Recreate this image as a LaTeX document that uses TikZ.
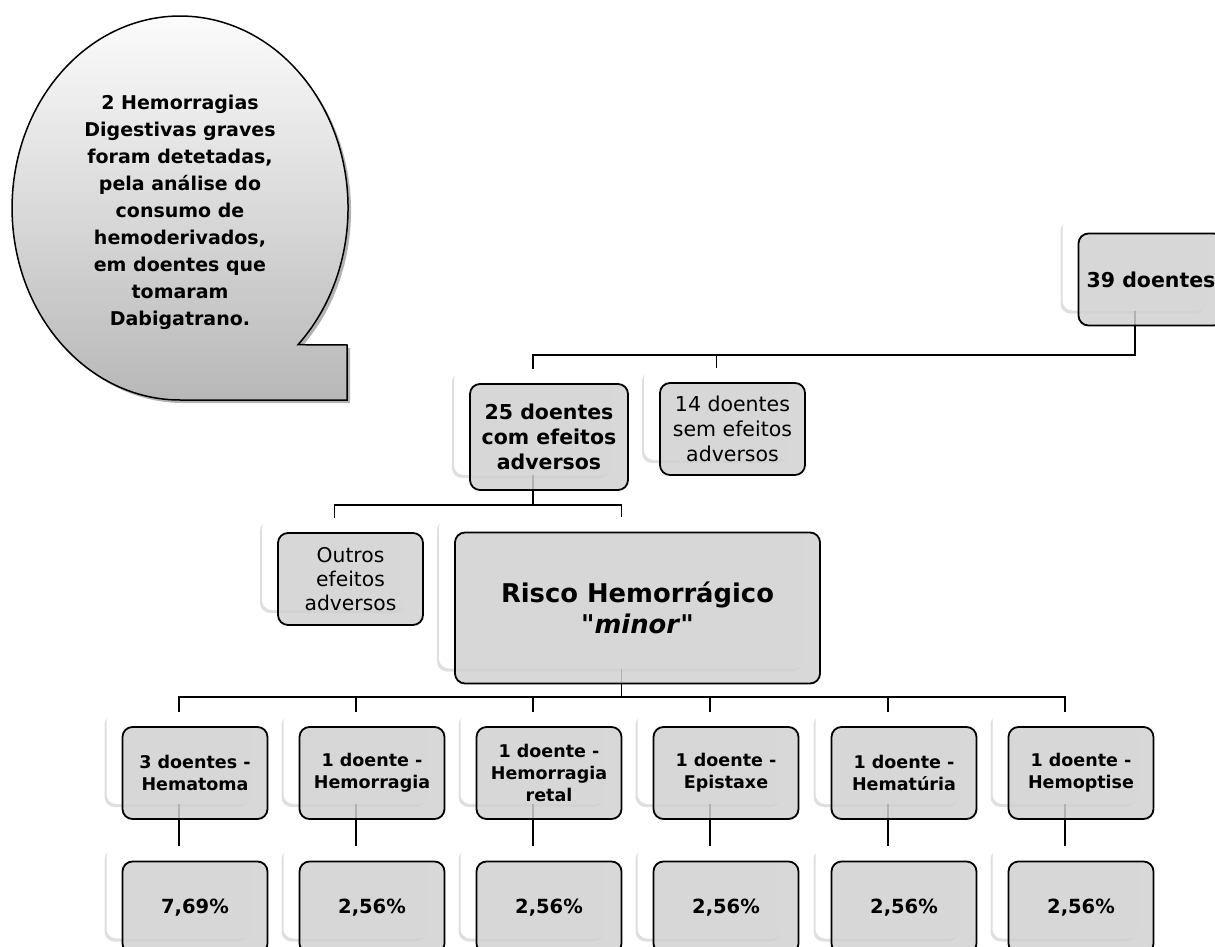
\documentclass[tikz,border=0pt]{standalone}
\usepackage{fontspec}
\setmainfont{DejaVu Sans}
\usetikzlibrary{positioning,shadows,calc}
\tikzset{
  chart/.style={x=1pt,y=-1pt},
  back/.style={rectangle,rounded corners=10pt,fill=white,inner sep=0pt,
    minimum width=145pt,minimum height=92pt,
    drop shadow={shadow xshift=-2pt,shadow yshift=-3pt,opacity=0.25}},
  front/.style={rectangle,rounded corners=10pt,draw=black,line width=1.8pt,
    fill=black!18,fill opacity=0.85,text opacity=1,inner sep=0pt,align=center,
    minimum width=145pt,minimum height=92pt,xshift=16pt,yshift=-15pt},
  wide/.style={minimum width=158pt,minimum height=106pt},
  huge/.style={minimum width=365pt,minimum height=151pt},
  link/.style={line width=1.8pt},
  note text/.style={align=center,font=\fontsize{19pt}{27pt}\selectfont\bfseries},
  level one/.style={font=\fontsize{20.5pt}{25pt}\selectfont\bfseries},
  level two/.style={font=\fontsize{20.5pt}{25pt}\selectfont\bfseries},
  plain two/.style={font=\fontsize{20.5pt}{25pt}\selectfont},
  plain three/.style={font=\fontsize{20.3pt}{24pt}\selectfont},
  level three/.style={font=\fontsize{25.8pt}{31pt}\selectfont\bfseries},
  level four/.style={font=\fontsize{17.5pt}{21.7pt}\selectfont\bfseries},
  level five/.style={font=\fontsize{19.5pt}{23pt}\selectfont\bfseries}
}
\begin{document}
\begin{tikzpicture}[chart]
  \useasboundingbox (0,0) rectangle (1215,947);
  \clip (0,0) rectangle (1215,947);

  % callout
  \path[draw=black,line width=1.5pt,top color=white,bottom color=black!28,
    drop shadow={shadow xshift=3pt,shadow yshift=-3pt,opacity=0.6}]
    (298,344.7) arc[start angle=45.4,end angle=-270,x radius=168,y radius=192]
    -- (347,400) -- (347,345) -- cycle;
  \node[note text] (note) at (180,212) {2 Hemorragias\\Digestivas graves\\foram detetadas,\\pela análise do\\consumo de\\hemoderivados,\\em doentes que\\tomaram\\Dabigatrano.};

  % white backs
  \node[back] (w39) at (1135,264.5) {};
  \node[back,wide] (w25) at (533,422) {};
  \node[back] (w14) at (716.5,414) {};
  \node[back] (wout) at (334.5,564) {};
  \node[back,huge] (wrisco) at (621.5,593) {};
  \node[back] (wa) at (179,758) {};
  \node[back] (wb) at (356,758) {};
  \node[back] (wc) at (533,758) {};
  \node[back] (wd) at (710,758) {};
  \node[back] (we) at (888,758) {};
  \node[back] (wf) at (1065,758) {};
  \node[back] (pa) at (179,892.5) {};
  \node[back] (pb) at (356,892.5) {};
  \node[back] (pc) at (533,892.5) {};
  \node[back] (pd) at (710,892.5) {};
  \node[back] (pe) at (888,892.5) {};
  \node[back] (pf) at (1065,892.5) {};

  % connectors
  \coordinate (bus1) at (0,355);
  \coordinate (bus2) at (0,505);
  \coordinate (bus3) at (0,697);
  \draw[link] (w39.south) -- (w39.south |- bus1) -| (w25.north);
  \draw[link] (w39.south |- bus1) -| (w14.north);
  \draw[link] (w25.south) -- (w25.south |- bus2) -| (wout.north);
  \draw[link] (w25.south |- bus2) -| (wrisco.north);
  \draw[link] (wrisco.south) -- (wrisco.south |- bus3) -| (wa.north);
  \draw[link] (wrisco.south |- bus3) -| (wf.north);
  \draw[link] (wb.north) -- (wb.north |- bus3);
  \draw[link] (wc.north) -- (wc.north |- bus3);
  \draw[link] (wd.north) -- (wd.north |- bus3);
  \draw[link] (we.north) -- (we.north |- bus3);
  \draw[link] (wa.south) -- (pa.north);
  \draw[link] (wb.south) -- (pb.north);
  \draw[link] (wc.south) -- (pc.north);
  \draw[link] (wd.south) -- (pd.north);
  \draw[link] (we.south) -- (pe.north);
  \draw[link] (wf.south) -- (pf.north);

  % gray boxes
  \node[front,level one] (g39) at (w39) {39 doentes};
  \node[front,wide,level two] (g25) at (w25) {25 doentes\\com efeitos\\adversos};
  \node[front,plain two] (g14) at (w14) {14 doentes\\sem efeitos\\adversos};
  \node[front,plain three] (gout) at (wout) {Outros\\efeitos\\adversos};
  \node[front,huge,level three] (grisco) at (wrisco) {Risco Hemorrágico\\\textquotedbl\textit{minor}\textquotedbl};
  \node[front,level four] (ga) at (wa) {3 doentes -\\Hematoma};
  \node[front,level four] (gb) at (wb) {1 doente -\\Hemorragia};
  \node[front,level four] (gc) at (wc) {1 doente -\\Hemorragia\\retal};
  \node[front,level four] (gd) at (wd) {1 doente -\\Epistaxe};
  \node[front,level four] (ge) at (we) {1 doente -\\Hematúria};
  \node[front,level four] (gf) at (wf) {1 doente -\\Hemoptise};
  \node[front,level five] (qa) at (pa) {7,69\%};
  \node[front,level five] (qb) at (pb) {2,56\%};
  \node[front,level five] (qc) at (pc) {2,56\%};
  \node[front,level five] (qd) at (pd) {2,56\%};
  \node[front,level five] (qe) at (pe) {2,56\%};
  \node[front,level five] (qf) at (pf) {2,56\%};
\end{tikzpicture}
\end{document}
